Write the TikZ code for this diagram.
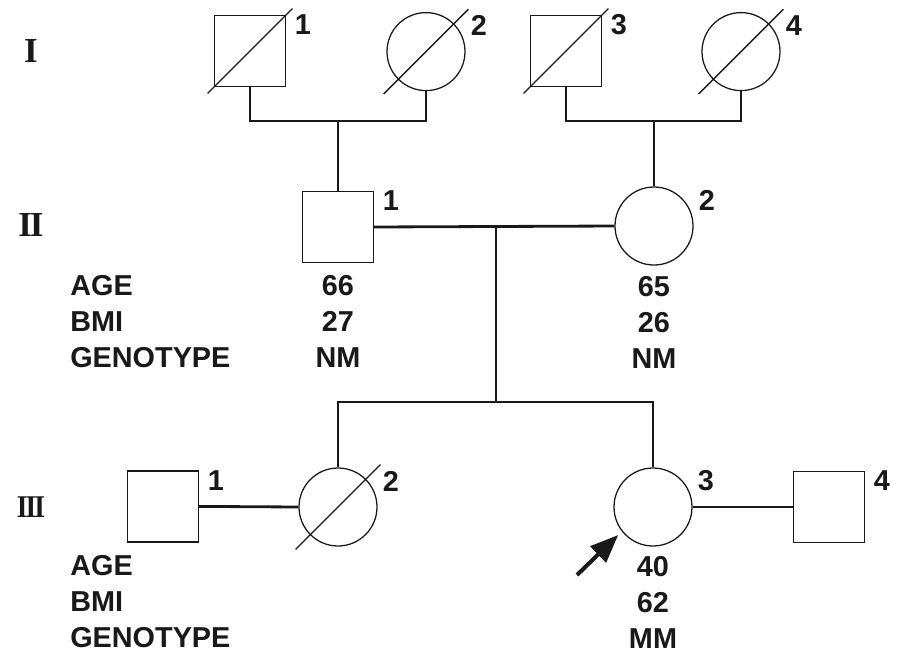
\documentclass[tikz,border=0pt]{standalone}
\usepackage{graphicx}
\usepackage{fontspec}
\setmainfont{Liberation Sans}
\newfontfamily\romanfont{Liberation Serif}
\usetikzlibrary{arrows.meta,positioning,calc}
\definecolor{ink}{RGB}{25,25,25}

\begin{document}
\begin{tikzpicture}[
  male/.style={rectangle,draw=ink,line width=0.9pt,minimum size=1.775cm,inner sep=0pt},
  female/.style={circle,draw=ink,line width=0.9pt,minimum size=1.95cm,inner sep=0pt},
  line/.style={draw=ink,line width=2pt},
  slash/.style={draw=ink,line width=0.9pt},
  num/.style={font=\fontsize{20.5}{24}\selectfont\bfseries,text=ink,inner sep=0pt},
  data/.style={font=\fontsize{20.5}{25.5}\selectfont\bfseries,text=ink,inner sep=0pt,align=center,anchor=north},
  gen/.style={font=\fontsize{25}{30}\selectfont\romanfont\bfseries,text=ink,inner sep=0pt},
  proband/.style={draw=ink,line width=2.9pt,-{Triangle[length=0.7cm,width=0.55cm]}}
]
\useasboundingbox (0,0) rectangle (22.475,-16.325);
% generation labels
\node[gen] (gI) at (0.775,-1.275) {I};
\node[gen] (gII) at (0.775,-5.625) {I\kern-0.06em I};
\node[gen] (gIII) at (0.775,-12.675) {\scalebox{0.78}[0.9]{I\kern-0.07em I\kern-0.07em I}};
% generation I
\node[male] (I1) at (6.25,-1.275) {};
\node[female] (I2) at (10.65,-1.29) {};
\node[male] (I3) at (14.15,-1.275) {};
\node[female] (I4) at (18.525,-1.29) {};
% generation II
\node[male] (II1) at (8.45,-5.675) {};
\node[female] (II2) at (16.35,-5.65) {};
% generation III
\node[male] (III1) at (4.075,-12.66) {};
\node[female] (III2) at (8.45,-12.675) {};
\node[female] (III3) at (16.325,-12.675) {};
\node[male] (III4) at (20.725,-12.675) {};
% individual numbers
\foreach \n/\t in {I1/1,I2/2,I3/3,I4/4,II1/1,II2/2,III1/1,III2/2,III3/3,III4/4}
  \node[num] (\n-num) at ($(\n)+(1.325,0.65)$) {\t};
% deceased
\foreach \n in {I1,I2,I3,I4,III2}
  \draw[slash] ($(\n)+(-1.06,-1.06)$) -- ($(\n)+(1.06,1.06)$);
% matings and lines of descent
\coordinate (u1) at (8.45,-3.025);
\coordinate (u2) at (16.35,-3.025);
\coordinate (u3) at (12.4,-5.675);
\coordinate (sib) at (12.4,-10.05);
\draw[line] (I1.south) |- (u1) -| (I2.south);
\draw[line] (u1) -- (II1.north);
\draw[line] (I3.south) |- (u2) -| (I4.south);
\draw[line] (u2) -- (II2.north);
\draw[line] (II1.east) -- (II2.west);
\draw[line] (u3) -- (sib);
\draw[line] (III2.north) |- (sib) -| (III3.north);
\draw[line] (III1.east) -- (III2.west);
\draw[line] (III3.east) -- (III4.west);
% data
\node[data,anchor=north west,align=left] (II-keys) at (1.75,-6.875) {AGE\\BMI\\GENOTYPE};
\node[data] (II1-data) at (8.45,-6.875) {66\\27\\NM};
\node[data] (II2-data) at (16.35,-6.9) {65\\26\\NM};
\node[data,anchor=north west,align=left] (III-keys) at (1.75,-13.88) {AGE\\BMI\\GENOTYPE};
\node[data] (III3-data) at (16.325,-13.9) {40\\62\\MM};
% proband
\coordinate (tail) at (14.425,-14.375);
\draw[proband] (tail) -- ([xshift=-0.17cm]III3.south west);
\end{tikzpicture}
\end{document}
